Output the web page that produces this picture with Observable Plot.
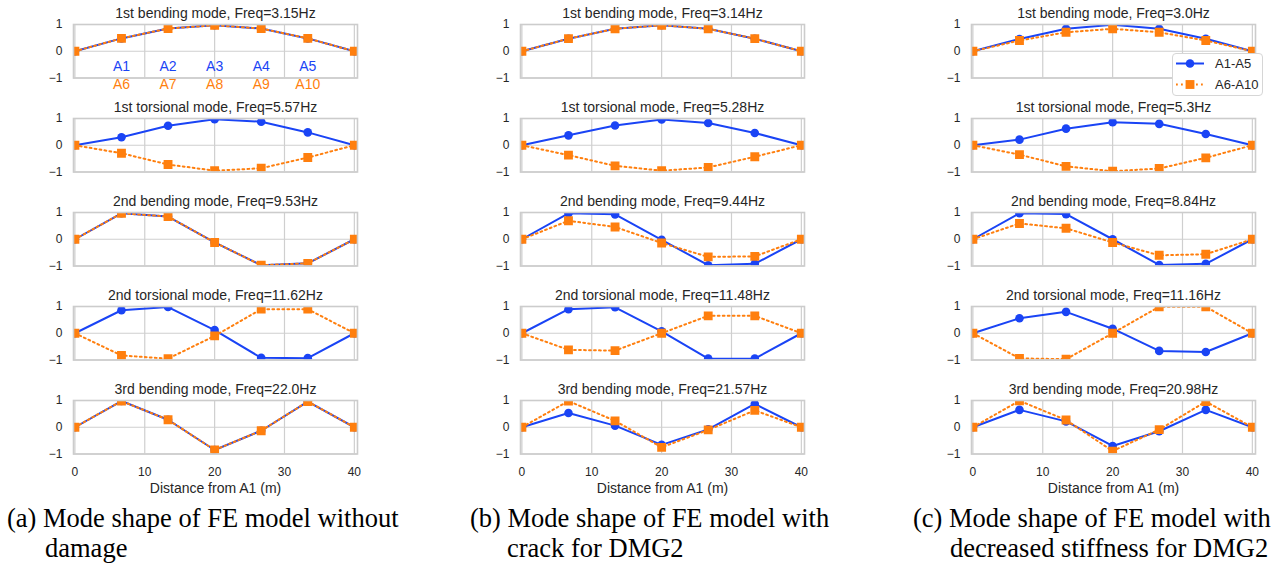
<!DOCTYPE html>
<html>
<head>
<meta charset="utf-8">
<script src="https://cdn.jsdelivr.net/npm/d3@7"></script>
<script src="https://cdn.jsdelivr.net/npm/@observablehq/plot@0.6"></script>
<style>
  html, body { margin: 0; padding: 0; background: #fff; }
  #root { position: relative; width: 1285px; height: 570px; overflow: hidden; background: #fff;
          font-family: "Liberation Sans", Arial, sans-serif; color: #262626; }
  .panel { position: absolute; }
  .legend { position: absolute; background: #fff; border: 1px solid #d6d6d6; border-radius: 4px; box-sizing: border-box; z-index: 5; }
</style>
</head>
<body>
<div id="root"></div>
<script>
// ---------- data ----------
const positions = [0, 6.667, 13.333, 20, 26.667, 33.333, 40];
const xTicks = [0, 10, 20, 30, 40];
const yTicks = [-1, 0, 1];
const seriesNames = ["A1-A5", "A6-A10"];
const sensorsTop = ["A1", "A2", "A3", "A4", "A5"];
const sensorsBottom = ["A6", "A7", "A8", "A9", "A10"];
const modeNames = ["1st bending mode", "1st torsional mode", "2nd bending mode", "2nd torsional mode", "3rd bending mode"];
const xLabel = "Distance from A1 (m)";

const freqUndamaged = ["3.15", "5.57", "9.53", "11.62", "22.0"];
const freqCrack = ["3.14", "5.28", "9.44", "11.48", "21.57"];
const freqStiffness = ["3.0", "5.3", "8.84", "11.16", "20.98"];

const blueUndamaged = [
  [0, 0.48, 0.85, 0.97, 0.85, 0.48, 0],
  [0, 0.30, 0.73, 0.97, 0.88, 0.48, 0],
  [0, 0.97, 0.85, -0.12, -0.97, -0.90, 0],
  [0, 0.86, 0.98, 0.12, -0.92, -0.93, 0],
  [0, 0.98, 0.28, -0.85, -0.13, 0.96, 0]
];
const orangeUndamaged = [
  [0, 0.48, 0.85, 0.97, 0.85, 0.48, 0],
  [0, -0.30, -0.72, -0.95, -0.86, -0.46, 0],
  [0, 0.97, 0.85, -0.12, -0.97, -0.90, 0],
  [0, -0.83, -0.95, -0.10, 0.90, 0.90, 0],
  [0, 0.98, 0.28, -0.85, -0.13, 0.96, 0]
];
const blueCrack = [
  [0, 0.47, 0.84, 0.97, 0.84, 0.47, 0],
  [0, 0.37, 0.74, 0.96, 0.83, 0.46, 0],
  [0, 0.97, 0.93, -0.02, -0.97, -0.92, 0],
  [0, 0.90, 0.97, 0.07, -0.95, -0.95, 0],
  [0, 0.53, 0.06, -0.66, -0.08, 0.87, 0]
];
const orangeCrack = [
  [0, 0.47, 0.84, 0.97, 0.84, 0.47, 0],
  [0, -0.37, -0.77, -0.95, -0.83, -0.43, 0],
  [0, 0.69, 0.46, -0.14, -0.66, -0.64, 0],
  [0, -0.62, -0.65, 0.00, 0.65, 0.65, 0],
  [0, 0.98, 0.24, -0.75, -0.10, 0.63, 0]
];
const blueStiffness = [
  [0, 0.46, 0.84, 0.99, 0.84, 0.47, 0],
  [0, 0.21, 0.62, 0.86, 0.80, 0.42, 0],
  [0, 0.97, 0.94, 0.00, -0.96, -0.92, 0],
  [0, 0.56, 0.80, 0.17, -0.66, -0.70, 0],
  [0, 0.65, 0.22, -0.70, -0.15, 0.65, 0]
];
const orangeStiffness = [
  [0, 0.40, 0.71, 0.84, 0.71, 0.40, 0],
  [0, -0.35, -0.79, -0.97, -0.87, -0.47, 0],
  [0, 0.59, 0.41, -0.12, -0.60, -0.56, 0],
  [0, -0.94, -0.97, 0.00, 0.99, 0.99, 0],
  [0, 0.99, 0.27, -0.89, -0.09, 0.96, 0]
];

const captionsA = ["(a) Mode shape of FE model without", "damage"];
const captionsB = ["(b) Mode shape of FE model with", "crack for DMG2"];
const captionsC = ["(c) Mode shape of FE model with", "decreased stiffness for DMG2"];

// ---------- layout / style ----------
const BLUE = "#1a44f5";
const ORANGE = "#ff7f0e";
const GRID = "#cfcfcf";
const TEXT = "#262626";
const DOTS = "1.8,3.2";

const columns = [
  {left: 73,  freq: freqUndamaged, blue: blueUndamaged, orange: orangeUndamaged, caption: captionsA, capX: [7, 45]},
  {left: 520, freq: freqCrack,     blue: blueCrack,     orange: orangeCrack,     caption: captionsB, capX: [470, 507]},
  {left: 971, freq: freqStiffness, blue: blueStiffness, orange: orangeStiffness, caption: captionsC, capX: [913, 950]}
];
const plotW = 284, plotH = 53.5, rowStep = 93.9, firstTop = 24;
const ML = 40, MR = 10, MT = 24;

const root = document.getElementById("root");

columns.forEach((col, ci) => {
  modeNames.forEach((mode, ri) => {
    const last = ri === modeNames.length - 1;
    const MB = last ? 50 : 16;
    const blueRows = positions.map((x, i) => ({x, y: col.blue[ri][i]}));
    const orangeRows = positions.map((x, i) => ({x, y: col.orange[ri][i]}));
    const marks = [
      Plot.gridX(xTicks, {stroke: GRID, strokeOpacity: 1, strokeWidth: 1.2}),
      Plot.gridY(yTicks, {stroke: GRID, strokeOpacity: 1, strokeWidth: 1.2}),
      Plot.axisY(yTicks, {tickSize: 0, tickPadding: 11, fontSize: 12, fill: TEXT, label: null}),
      Plot.line(blueRows, {x: "x", y: "y", stroke: BLUE, strokeWidth: 2, clip: true}),
      Plot.dot(blueRows, {x: "x", y: "y", r: 4.3, fill: BLUE, stroke: null, clip: true}),
      Plot.line(orangeRows, {x: "x", y: "y", stroke: ORANGE, strokeWidth: 2, strokeDasharray: DOTS, clip: true}),
      Plot.dot(orangeRows, {x: "x", y: "y", symbol: "square", r: 5, fill: ORANGE, stroke: null, clip: true}),
      Plot.frame({stroke: "#cccccc", strokeWidth: 1.6}),
      Plot.text([`${mode}, Freq=${col.freq[ri]}Hz`], {frameAnchor: "top", lineAnchor: "bottom", dy: -6.5, fontSize: 14, fill: TEXT})
    ];
    if (last) {
      marks.push(Plot.axisX(xTicks, {tickSize: 0, tickPadding: 13.5, fontSize: 12, fill: TEXT, label: null}));
      marks.push(Plot.text([xLabel], {frameAnchor: "bottom", lineAnchor: "bottom", dy: 39, fontSize: 14, fill: TEXT}));
    }
    if (ci === 0 && ri === 0) {
      const inner = positions.slice(1, 6);
      marks.push(Plot.text(sensorsTop, {x: (d, i) => inner[i], frameAnchor: "bottom", dy: -7.5, fontSize: 14, fill: BLUE}));
      marks.push(Plot.text(sensorsBottom, {x: (d, i) => inner[i], frameAnchor: "bottom", dy: 10.5, fontSize: 14, fill: ORANGE}));
    }
    const chart = Plot.plot({
      width: ML + plotW + MR,
      height: MT + plotH + MB,
      marginLeft: ML, marginRight: MR, marginTop: MT, marginBottom: MB,
      x: {domain: [-0.2, 40.45], axis: last ? undefined : null},
      y: {domain: [-1, 1], axis: null},
      style: {background: "transparent", overflow: "visible", fontFamily: "'Liberation Sans', Arial, sans-serif", fontSize: "12px", color: TEXT},
      marks
    });
    const div = document.createElement("div");
    div.className = "panel";
    div.style.left = (col.left - ML) + "px";
    div.style.top = (firstTop + ri * rowStep - MT) + "px";
    div.appendChild(chart);
    root.appendChild(div);
  });
});

// ---------- legend ----------
const legend = d3.select(root).append("div").attr("class", "legend")
  .style("left", "1172px").style("top", "53px").style("width", "91px").style("height", "43px");
const lsvg = legend.append("svg").attr("width", 89).attr("height", 41).style("display", "block");
const legendItems = [
  {name: seriesNames[0], color: BLUE, dash: null, symbol: d3.symbolCircle, size: Math.PI * 4.3 * 4.3},
  {name: seriesNames[1], color: ORANGE, dash: DOTS, symbol: d3.symbolSquare, size: Math.PI * 25}
];
legendItems.forEach((it, i) => {
  const cy = 9.5 + i * 21;
  lsvg.append("line").attr("x1", 3).attr("x2", 31).attr("y1", cy).attr("y2", cy)
    .attr("stroke", it.color).attr("stroke-width", 2).attr("stroke-dasharray", it.dash);
  lsvg.append("path").attr("d", d3.symbol(it.symbol, it.size)()).attr("transform", `translate(17,${cy})`).attr("fill", it.color);
  lsvg.append("text").attr("x", 42).attr("y", cy).attr("dy", "0.35em")
    .attr("font-family", "'Liberation Sans', Arial, sans-serif").attr("font-size", 13).attr("fill", TEXT).text(it.name);
});

// ---------- captions ----------
const csvg = d3.select(root).append("svg")
  .attr("width", 1285).attr("height", 570)
  .style("position", "absolute").style("left", "0px").style("top", "0px").style("pointer-events", "none");
columns.forEach(col => {
  col.caption.forEach((line, li) => {
    csvg.append("text").attr("x", col.capX[li]).attr("y", 527 + li * 30)
      .attr("font-family", "'Liberation Serif', 'Times New Roman', serif").attr("font-size", 26.5)
      .attr("fill", "#000").text(line);
  });
});
</script>
</body>
</html>
